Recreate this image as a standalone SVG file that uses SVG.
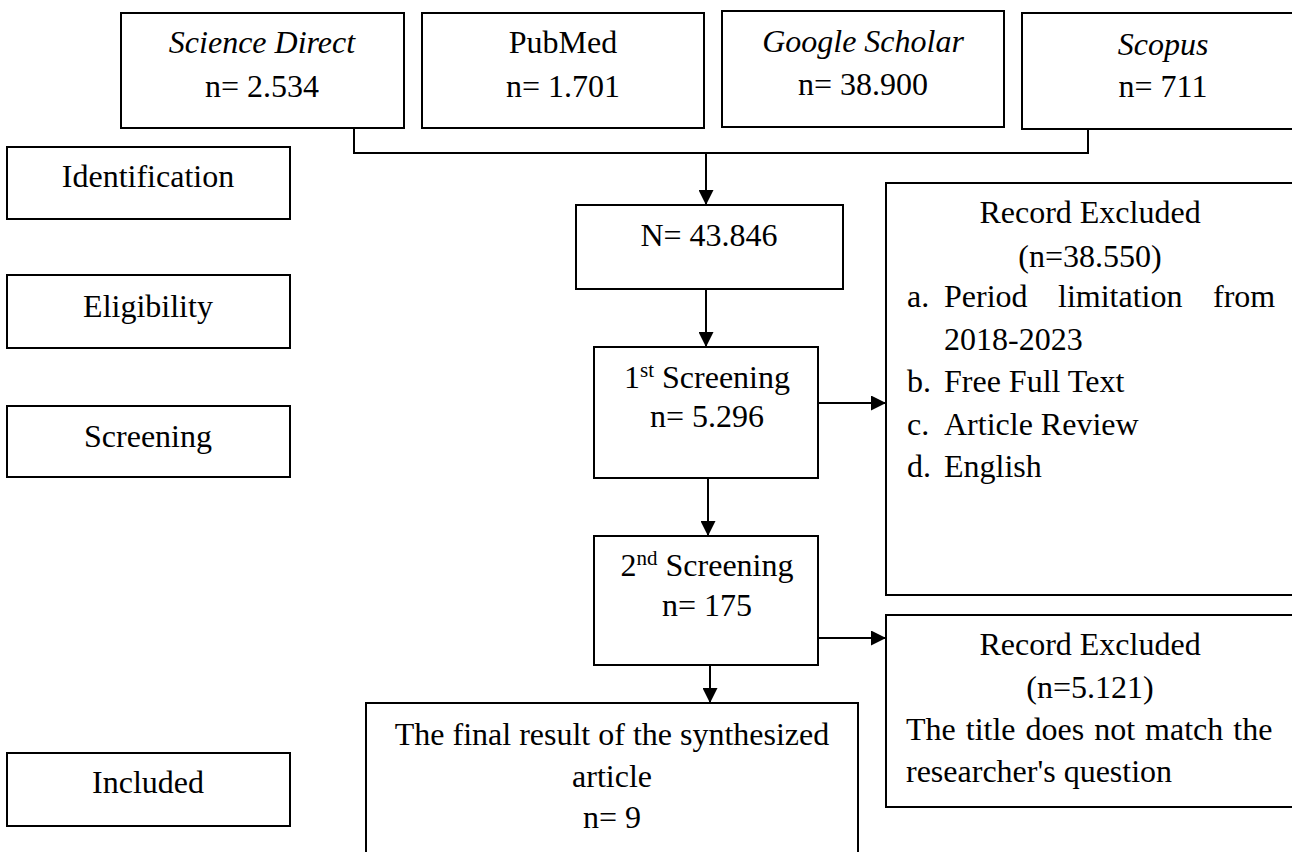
<svg xmlns="http://www.w3.org/2000/svg" width="1292" height="852" viewBox="0 0 1292 852">
<style>
  .box { fill: #ffffff; stroke: #000000; stroke-width: 2; }
  .t { font-family: "Liberation Serif", "Times New Roman", serif; font-size: 32px; fill: #000000; }
  .c { text-anchor: middle; }
  .i { font-style: italic; }
  .con { fill: none; stroke: #000000; stroke-width: 2; }
  .sup { font-size: 21px; }
</style>
<defs>
  <marker id="arr" markerUnits="userSpaceOnUse" markerWidth="15" markerHeight="15" refX="15" refY="7.5" orient="auto">
    <path d="M0,0 L15,7.5 L0,15 z" fill="#000000"/>
  </marker>
</defs>
<rect x="0" y="0" width="1292" height="852" fill="#ffffff"/>

<g id="connectors">
  <polyline class="con" points="354,128 354,153 1088,153 1088,129"/>
  <line class="con" x1="706" y1="153" x2="706" y2="205" marker-end="url(#arr)"/>
  <line class="con" x1="706" y1="289" x2="706" y2="347" marker-end="url(#arr)"/>
  <line class="con" x1="708" y1="478" x2="708" y2="536" marker-end="url(#arr)"/>
  <line class="con" x1="710" y1="665" x2="710" y2="703" marker-end="url(#arr)"/>
  <line class="con" x1="818" y1="403" x2="886" y2="403" marker-end="url(#arr)"/>
  <line class="con" x1="818" y1="638" x2="886" y2="638" marker-end="url(#arr)"/>
</g>

<g id="science-direct">
  <rect class="box" x="121" y="13" width="283" height="115"/>
  <text class="t c i" x="262" y="53">Science Direct</text>
  <text class="t c" x="262" y="97">n= 2.534</text>
</g>
<g id="pubmed">
  <rect class="box" x="422" y="13" width="282" height="115"/>
  <text class="t c" x="563" y="53">PubMed</text>
  <text class="t c" x="563" y="97">n= 1.701</text>
</g>
<g id="google-scholar">
  <rect class="box" x="722" y="11" width="282" height="116"/>
  <text class="t c i" x="863" y="52">Google Scholar</text>
  <text class="t c" x="863" y="95">n= 38.900</text>
</g>
<g id="scopus">
  <rect class="box" x="1022" y="13" width="285" height="116"/>
  <text class="t c i" x="1163" y="55">Scopus</text>
  <text class="t c" x="1163" y="97">n= 711</text>
</g>

<g id="identification">
  <rect class="box" x="7" y="147" width="283" height="72"/>
  <text class="t c" x="148" y="187">Identification</text>
</g>
<g id="eligibility">
  <rect class="box" x="7" y="275" width="283" height="73"/>
  <text class="t c" x="148" y="317">Eligibility</text>
</g>
<g id="screening">
  <rect class="box" x="7" y="406" width="283" height="71"/>
  <text class="t c" x="148" y="447">Screening</text>
</g>
<g id="included">
  <rect class="box" x="7" y="753" width="283" height="73"/>
  <text class="t c" x="148" y="793">Included</text>
</g>

<g id="total">
  <rect class="box" x="576" y="205" width="267" height="84"/>
  <text class="t c" x="709" y="246">N= 43.846</text>
</g>
<g id="first-screening">
  <rect class="box" x="594" y="347" width="224" height="131"/>
  <text class="t c" x="707" y="388">1<tspan class="sup" dy="-11">st</tspan><tspan dy="11"> Screening</tspan></text>
  <text class="t c" x="707" y="427">n= 5.296</text>
</g>
<g id="second-screening">
  <rect class="box" x="594" y="536" width="224" height="129"/>
  <text class="t c" x="707" y="576">2<tspan class="sup" dy="-11">nd</tspan><tspan dy="11"> Screening</tspan></text>
  <text class="t c" x="707" y="616">n= 175</text>
</g>
<g id="final-result">
  <rect class="box" x="366" y="703" width="492" height="165"/>
  <text class="t c" x="612" y="745">The final result of the synthesized</text>
  <text class="t c" x="612" y="787">article</text>
  <text class="t c" x="612" y="828">n= 9</text>
</g>

<g id="excluded-1">
  <rect class="box" x="886" y="183" width="415" height="412"/>
  <text class="t c" x="1090" y="223">Record Excluded</text>
  <text class="t c" x="1090" y="267">(n=38.550)</text>
  <text class="t" x="907" y="307">a.</text>
  <text class="t" x="944" y="307">Period</text>
  <text class="t" x="1058" y="307">limitation</text>
  <text class="t" x="1213" y="307">from</text>
  <text class="t" x="944" y="350">2018-2023</text>
  <text class="t" x="907" y="392">b.</text>
  <text class="t" x="944" y="392">Free Full Text</text>
  <text class="t" x="907" y="435">c.</text>
  <text class="t" x="944" y="435">Article Review</text>
  <text class="t" x="907" y="477">d.</text>
  <text class="t" x="944" y="477">English</text>
</g>
<g id="excluded-2">
  <rect class="box" x="886" y="615" width="415" height="192"/>
  <text class="t c" x="1090" y="655">Record Excluded</text>
  <text class="t c" x="1090" y="698">(n=5.121)</text>
  <text class="t" x="906" y="740" word-spacing="2">The title does not match the</text>
  <text class="t" x="906" y="782">researcher's question</text>
</g>
</svg>
